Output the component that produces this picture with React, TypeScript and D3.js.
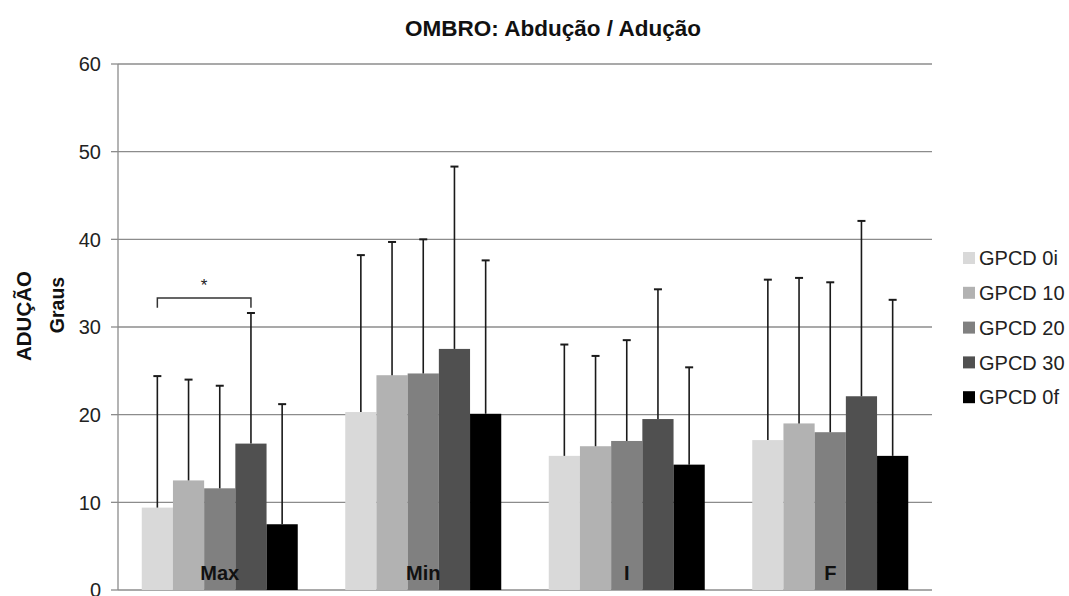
import React from 'react';
import * as d3 from 'd3';

// values (degrees); error bars are upward only
const categories = ['Max', 'Min', 'I', 'F'];
const groups = ['GPCD 0i', 'GPCD 10', 'GPCD 20', 'GPCD 30', 'GPCD 0f'];
const colors = ['#d9d9d9', '#b2b2b2', '#808080', '#505050', '#000000'];

const means = [
  [9.4, 12.5, 11.6, 16.7, 7.5],
  [20.3, 24.5, 24.7, 27.5, 20.1],
  [15.3, 16.4, 17.0, 19.5, 14.3],
  [17.1, 19.0, 18.0, 22.1, 15.3],
];
const sds = [
  [15.0, 11.5, 11.7, 14.9, 13.7],
  [17.9, 15.2, 15.3, 20.8, 17.5],
  [12.7, 10.3, 11.5, 14.8, 11.1],
  [18.3, 16.6, 17.1, 20.0, 17.8],
];
const yTicks = [0, 10, 20, 30, 40, 50, 60];

// significance bracket between GPCD 0i and GPCD 30 in "Max"
const bracket = { category: 'Max', from: 0, to: 3, level: 33.3, drop: 1.1, label: '*' };

const W = 1069;
const H = 596;
const margin = { top: 64, right: 137, bottom: 6, left: 118 };
const FONT = '"Liberation Sans", Arial, sans-serif';

export default function App() {
  const innerW = W - margin.left - margin.right;
  const innerH = H - margin.top - margin.bottom;

  const x0 = d3.scaleBand().domain(categories).range([0, innerW]).paddingInner(0.2334).paddingOuter(0.1167);
  const x1 = d3.scaleBand().domain(groups.map((_, i) => String(i))).range([0, x0.bandwidth()]);
  const y = d3.scaleLinear().domain([0, 60]).range([innerH, 0]);

  const bx = (c: string, i: number) => (x0(c) as number) + (x1(String(i)) as number);
  const bw = x1.bandwidth();
  const cap = 4;

  const bLeft = bx(bracket.category, bracket.from) + bw / 2;
  const bRight = bx(bracket.category, bracket.to) + bw / 2;

  return (
    <svg width={W} height={H} style={{ position: 'absolute', left: 0, top: 0, background: '#fff' }} fontFamily={FONT}>
      <text x={553} y={36} textAnchor="middle" fontSize={22.5} fontWeight="bold" fill="#111">
        OMBRO: Abdução / Adução
      </text>

      <g transform={`translate(${margin.left},${margin.top})`}>
        {yTicks.map((t) => (
          <g key={t}>
            <line x1={0} x2={innerW} y1={y(t)} y2={y(t)} stroke="#8c8c8c" strokeWidth={1.3} />
            <line x1={-7} x2={0} y1={y(t)} y2={y(t)} stroke="#8c8c8c" strokeWidth={1.3} />
            <text x={-17} y={y(t)} dy="0.36em" textAnchor="end" fontSize={20} fill="#222">
              {t}
            </text>
          </g>
        ))}
        <line x1={0} x2={0} y1={0} y2={innerH} stroke="#8c8c8c" strokeWidth={1.3} />

        {categories.map((c, ci) => (
          <g key={c}>
            {groups.map((g, gi) => (
              <rect
                key={g}
                x={bx(c, gi)}
                y={y(means[ci][gi])}
                width={bw}
                height={innerH - y(means[ci][gi])}
                fill={colors[gi]}
              />
            ))}
            {groups.map((g, gi) => {
              const cx = bx(c, gi) + bw / 2;
              const top = y(means[ci][gi] + sds[ci][gi]);
              return (
                <g key={g} stroke="#1a1a1a" strokeWidth={1.6}>
                  <line x1={cx} x2={cx} y1={y(means[ci][gi])} y2={top} />
                  <line x1={cx - cap} x2={cx + cap} y1={top} y2={top} strokeWidth={2} />
                </g>
              );
            })}
            <text
              x={(x0(c) as number) + x0.bandwidth() / 2}
              y={y(0) - 17}
              dy="0.36em"
              textAnchor="middle"
              fontSize={20}
              fontWeight="bold"
              fill="#111"
            >
              {c}
            </text>
          </g>
        ))}

        <path
          d={`M${bLeft},${y(bracket.level - bracket.drop)}V${y(bracket.level)}H${bRight}V${y(bracket.level - bracket.drop)}`}
          fill="none"
          stroke="#333"
          strokeWidth={1.5}
        />
        <text x={(bLeft + bRight) / 2} y={y(bracket.level) - 13} dy="0.36em" textAnchor="middle" fontSize={17} fill="#222">
          {bracket.label}
        </text>
      </g>

      <text transform="translate(31,316) rotate(-90)" textAnchor="middle" fontSize={20.5} fontWeight="bold" fill="#111">
        ADUÇÃO
      </text>
      <text transform="translate(64,305) rotate(-90)" textAnchor="middle" fontSize={19.5} fontWeight="bold" fill="#111">
        Graus
      </text>

      <g transform="translate(963,258)">
        {groups.map((g, i) => (
          <g key={g} transform={`translate(0,${i * 34.8})`}>
            <rect x={0} y={-6} width={12} height={12} fill={colors[i]} />
            <text x={16} y={0} dy="0.36em" fontSize={20} fill="#222">
              {g}
            </text>
          </g>
        ))}
      </g>
    </svg>
  );
}
